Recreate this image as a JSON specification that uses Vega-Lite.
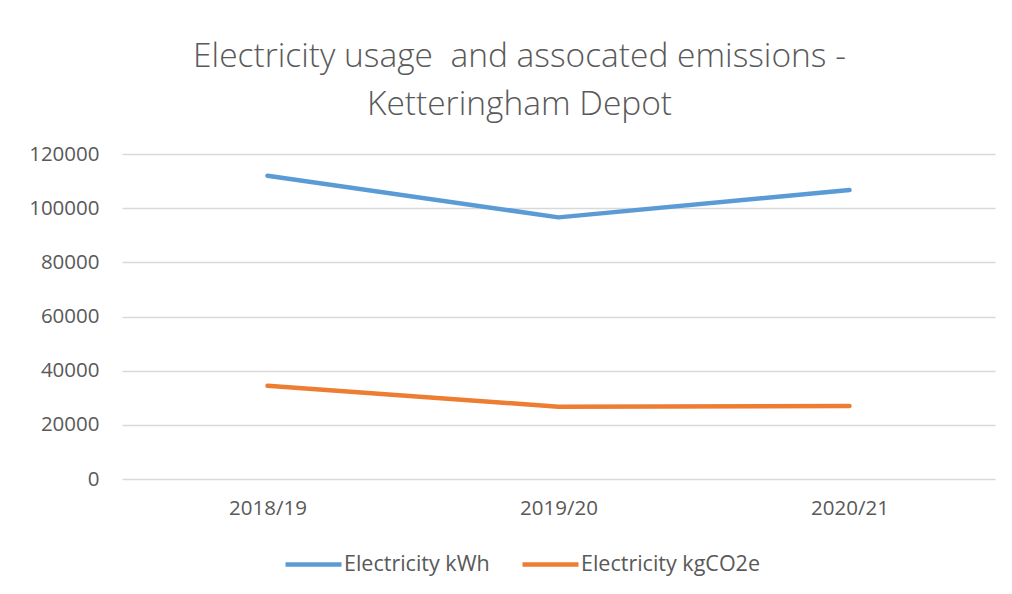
{
  "$schema": "https://vega.github.io/schema/vega-lite/v6.json",
  "width": 873,
  "height": 325,
  "autosize": "none",
  "padding": {"left": 122, "top": 154, "right": 17, "bottom": 115},
  "background": "white",
  "title": {
    "text": ["Electricity usage \u00a0and assocated emissions -", "Ketteringham Depot"],
    "font": "Open Sans",
    "fontWeight": 300,
    "fontSize": 33.5,
    "color": "#595959",
    "lineHeight": 48,
    "anchor": "middle",
    "dx": -39,
    "offset": 22
  },
  "data": {
    "values": [
      {"year": "2018/19", "series": "Electricity kWh", "value": 112000},
      {"year": "2019/20", "series": "Electricity kWh", "value": 96600},
      {"year": "2020/21", "series": "Electricity kWh", "value": 106700},
      {"year": "2018/19", "series": "Electricity kgCO2e", "value": 34400},
      {"year": "2019/20", "series": "Electricity kgCO2e", "value": 26700},
      {"year": "2020/21", "series": "Electricity kgCO2e", "value": 26950}
    ]
  },
  "mark": {"type": "line", "strokeWidth": 4.5, "strokeCap": "round", "strokeJoin": "round"},
  "encoding": {
    "x": {
      "field": "year",
      "type": "nominal",
      "title": null,
      "scale": {"type": "point", "padding": 0.5},
      "axis": {"labelAngle": 0, "ticks": false, "domain": false, "grid": false, "labelPadding": 19}
    },
    "y": {
      "field": "value",
      "type": "quantitative",
      "title": null,
      "scale": {"domain": [0, 120000], "nice": false},
      "axis": {"values": [0, 20000, 40000, 60000, 80000, 100000, 120000], "format": "d", "ticks": false, "domain": false, "labelPadding": 23, "gridColor": "#D9D9D9", "gridWidth": 1.5}
    },
    "color": {
      "field": "series",
      "type": "nominal",
      "title": null,
      "scale": {"domain": ["Electricity kWh", "Electricity kgCO2e"], "range": ["#5B9BD5", "#ED7D31"]},
      "legend": {
        "orient": "none",
        "direction": "horizontal",
        "legendX": 161,
        "legendY": 380,
        "symbolType": "stroke",
        "symbolSize": 3136,
        "symbolStrokeWidth": 4.5,
        "columnPadding": 23,
        "labelOffset": 0
      }
    }
  },
  "config": {
    "view": {"stroke": null},
    "font": "Open Sans",
    "axis": {"labelFont": "Open Sans", "labelFontSize": 20.5, "labelColor": "#595959"},
    "legend": {"labelFont": "Open Sans", "labelFontSize": 21.5, "labelColor": "#595959", "labelLimit": 300}
  }
}
